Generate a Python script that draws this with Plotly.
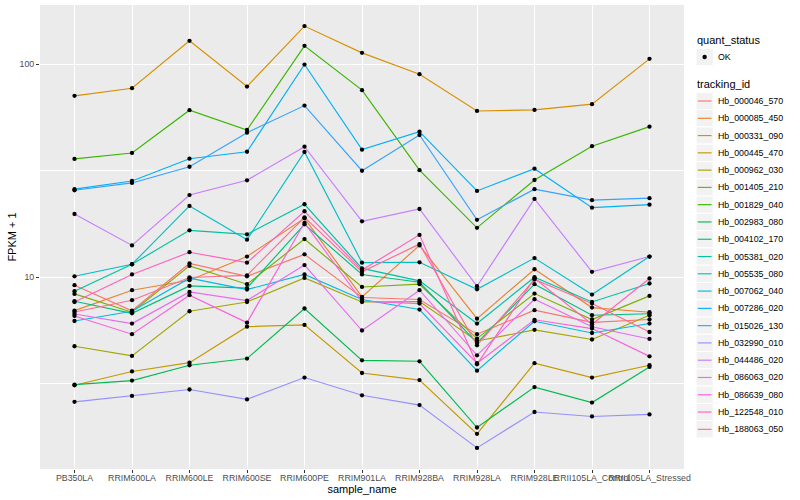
import plotly.graph_objects as go

# ---------------- data ----------------
samples = ["PB350LA", "RRIM600LA", "RRIM600LE", "RRIM600SE", "RRIM600PE",
           "RRIM901LA", "RRIM928BA", "RRIM928LA", "RRIM928LE",
           "RRII105LA_Control", "RRII105LA_Stressed"]

tracking_ids = ["Hb_000046_570", "Hb_000085_450", "Hb_000331_090", "Hb_000445_470",
                "Hb_000962_030", "Hb_001405_210", "Hb_001829_040", "Hb_002983_080",
                "Hb_004102_170", "Hb_005381_020", "Hb_005535_080", "Hb_007062_040",
                "Hb_007286_020", "Hb_015026_130", "Hb_032990_010", "Hb_044486_020",
                "Hb_086063_020", "Hb_086639_080", "Hb_122548_010", "Hb_188063_050"]

# FPKM + 1 per tracking id, in sample order
hb_000046_570 = [9.17, 6.96, 11.6, 10.1, 12.8, 8.03, 7.86, 5.40, 7.00, 6.14, 6.33]
hb_000085_450 = [6.97, 8.69, 9.68, 12.5, 18.9, 8.08, 14.1, 6.39, 10.9, 7.20, 6.85]
hb_000331_090 = [71.0, 77.1, 128.7, 78.5, 150.9, 113.0, 89.7, 60.3, 61.0, 64.9, 105.9]
hb_000445_470 = [3.11, 3.61, 3.97, 5.86, 5.97, 3.55, 3.29, 1.84, 3.95, 3.38, 3.86]
hb_000962_030 = [4.74, 4.27, 6.92, 7.65, 9.92, 7.65, 7.69, 5.02, 5.66, 5.10, 6.63]
hb_001405_210 = [8.35, 6.85, 11.3, 9.27, 15.1, 9.00, 9.27, 5.15, 8.38, 6.33, 8.17]
hb_001829_040 = [35.9, 38.3, 60.8, 49.1, 121.9, 75.5, 31.8, 17.05, 28.6, 41.2, 50.9]
hb_002983_080 = [3.13, 3.27, 3.86, 4.15, 7.13, 4.07, 4.03, 1.97, 3.05, 2.58, 3.79]
hb_004102_170 = [7.71, 6.77, 9.10, 8.88, 17.7, 10.3, 9.47, 4.91, 9.27, 6.63, 6.74]
hb_005381_020 = [8.59, 11.5, 16.6, 15.9, 22.0, 11.0, 9.61, 6.06, 10.0, 7.65, 9.34]
hb_005535_080 = [10.1, 11.5, 21.6, 15.0, 38.7, 11.7, 11.75, 8.78, 12.3, 8.29, 12.5]
hb_007062_040 = [6.23, 6.92, 9.89, 8.75, 10.3, 7.86, 7.05, 3.64, 6.21, 5.47, 6.06]
hb_007286_020 = [25.9, 28.3, 36.0, 38.8, 99.6, 39.7, 48.2, 25.4, 32.3, 21.2, 21.9]
hb_015026_130 = [25.6, 27.7, 33.0, 47.7, 63.9, 31.6, 46.5, 18.6, 25.9, 23.0, 23.5]
hb_032990_010 = [2.60, 2.77, 2.97, 2.67, 3.38, 2.79, 2.51, 1.58, 2.33, 2.22, 2.27]
hb_044486_020 = [19.8, 14.1, 24.3, 28.5, 41.0, 18.3, 20.9, 9.07, 23.3, 10.6, 12.5]
hb_086063_020 = [6.72, 6.06, 8.53, 7.77, 11.4, 5.62, 8.69, 4.30, 7.88, 5.85, 5.13]
hb_086639_080 = [6.58, 5.40, 8.23, 6.12, 18.0, 7.71, 7.52, 3.95, 6.31, 5.74, 4.25]
hb_122548_010 = [7.65, 10.3, 13.1, 11.7, 20.4, 10.8, 15.8, 3.90, 9.89, 6.01, 9.86]
hb_188063_050 = [6.87, 7.80, 9.97, 10.2, 19.1, 10.6, 14.3, 4.79, 9.75, 7.52, 5.53]

quant_status = ["OK"]

series = [hb_000046_570, hb_000085_450, hb_000331_090, hb_000445_470, hb_000962_030,
          hb_001405_210, hb_001829_040, hb_002983_080, hb_004102_170, hb_005381_020,
          hb_005535_080, hb_007062_040, hb_007286_020, hb_015026_130, hb_032990_010,
          hb_044486_020, hb_086063_020, hb_086639_080, hb_122548_010, hb_188063_050]

# ---------------- style ----------------
colors = ["#F8766D", "#EA8331", "#D89000", "#C09B00", "#A3A500", "#7CAE00", "#39B600",
          "#00BB4E", "#00BF7D", "#00C1A3", "#00BFC4", "#00BAE0", "#00B0F6", "#35A2FF",
          "#9590FF", "#C77CFF", "#E76BF3", "#FA62DB", "#FF62BC", "#FF6C91"]
FONT = "Liberation Sans, Arial, Helvetica, sans-serif"
W, H = 800, 500
ML, MR, MT, MB = 40, 116, 5, 31

fig = go.Figure()

# lines
for tid, vals, col in zip(tracking_ids, series, colors):
    fig.add_trace(go.Scatter(x=samples, y=vals, mode="lines", name=tid,
                             line=dict(color=col, width=1.15), showlegend=False,
                             hoverinfo="skip"))

# points (quant_status = OK)
all_x = [s for _ in series for s in samples]
all_y = [v for vals in series for v in vals]
fig.add_trace(go.Scatter(x=all_x, y=all_y, mode="markers", name=quant_status[0],
                         marker=dict(color="black", size=4.3), showlegend=False))

fig.update_layout(
    width=W, height=H,
    margin=dict(l=ML, r=MR, t=MT, b=MB, autoexpand=False),
    plot_bgcolor="#EBEBEB", paper_bgcolor="white",
    font=dict(family=FONT, size=8.8, color="#4D4D4D"),
    showlegend=False,
    xaxis=dict(type="category", categoryorder="array", categoryarray=samples,
               range=[-0.6, len(samples) - 0.4],
               showgrid=True, gridcolor="white", gridwidth=1.1,
               zeroline=False, showline=False,
               ticks="outside", ticklen=3, tickwidth=1, tickcolor="#333333",
               tickangle=0, tickfont=dict(family=FONT, size=8.8, color="#4D4D4D"),
               ticklabelstandoff=-3,
               title=dict(text="sample_name", font=dict(family=FONT, size=11, color="black"),
                          standoff=1),
               automargin=False),
    yaxis=dict(type="log", range=[0.0997, 2.2777],
               tickvals=[10, 100], ticktext=["10", "100"],
               showgrid=True, gridcolor="white", gridwidth=1.1,
               zeroline=False, showline=False,
               ticks="outside", ticklen=3, tickwidth=1, tickcolor="#333333",
               tickfont=dict(family=FONT, size=8.8, color="#4D4D4D"),
               minor=dict(tickvals=[10 ** 0.5, 10 ** 1.5], showgrid=True,
                          gridcolor="white", gridwidth=0.55, ticks=""),
               title=dict(text="FPKM + 1", font=dict(family=FONT, size=11, color="black"),
                          standoff=0),
               automargin=False),
)

# ---------------- legend (ggplot-style, drawn in paper space) ----------------
PW, PH = W - ML - MR, H - MT - MB


def px_x(px):
    return (px - ML) / PW


def px_y(py):
    return (H - MB - py) / PH


KEY_L, KEY = 696.0, 17.28
TEXT_L = 716.0
shapes, annots = [], []


def key_box(cy):
    shapes.append(dict(type="rect", xref="paper", yref="paper",
                       x0=px_x(KEY_L), x1=px_x(KEY_L + KEY),
                       y0=px_y(cy + KEY / 2), y1=px_y(cy - KEY / 2),
                       fillcolor="#F2F2F2", line=dict(color="white", width=1), layer="above"))


def label(text, cy, size, x=TEXT_L):
    annots.append(dict(text=text, xref="paper", yref="paper", x=px_x(x), y=px_y(cy),
                       xanchor="left", yanchor="middle", showarrow=False,
                       font=dict(family=FONT, size=size, color="black")))


label("quant_status", 40, 11, x=695)
key_box(57)
r = 2.2
cx = KEY_L + KEY / 2
shapes.append(dict(type="circle", xref="paper", yref="paper",
                   x0=px_x(cx - r), x1=px_x(cx + r), y0=px_y(57 + r), y1=px_y(57 - r),
                   fillcolor="black", line=dict(color="black", width=0), layer="above"))
label(quant_status[0], 57, 8.8)

label("tracking_id", 84.3, 11, x=695)
for i, (tid, col) in enumerate(zip(tracking_ids, colors)):
    cy = 101 + KEY * i
    key_box(cy)
    shapes.append(dict(type="line", xref="paper", yref="paper",
                       x0=px_x(KEY_L + 0.1 * KEY), x1=px_x(KEY_L + 0.9 * KEY),
                       y0=px_y(cy), y1=px_y(cy),
                       line=dict(color=col, width=1.15), layer="above"))
    label(tid, cy, 8.8)

fig.update_layout(shapes=shapes, annotations=annots)

fig.write_html("out.html", config={"displayModeBar": False},
               post_script="document.body.style.margin='0px';document.body.style.overflow='hidden';")
